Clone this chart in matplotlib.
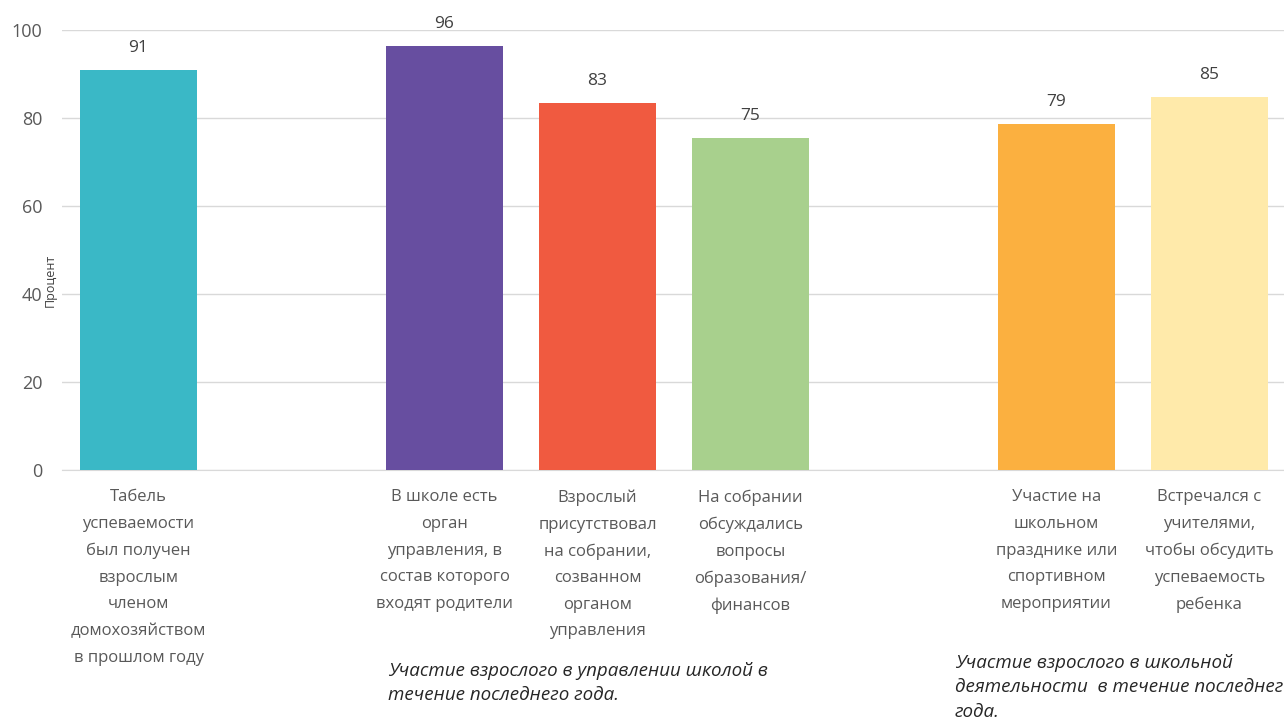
import numpy as np
import matplotlib
matplotlib.use("Agg")
import matplotlib.pyplot as plt

plt.rcParams['font.family'] = ['Open Sans', 'DejaVu Sans']

# данные
slots = [0, 2, 3, 4, 6, 7]
values = [91.0, 96.3, 83.3, 75.4, 78.6, 84.8]
colors = ['#3AB8C6', '#674EA0', '#F05A40', '#A8D08D', '#FBB040', '#FFEAAA']
labels = ['Табель\nуспеваемости\nбыл получен\nвзрослым\nчленом\nдомохозяйством\nв прошлом году',
          'В школе есть\nорган\nуправления, в\nсостав которого\nвходят родители',
          'Взрослый\nприсутствовал\nна собрании,\nсозванном\nорганом\nуправления',
          'На собрании\nобсуждались\nвопросы\nобразования/\nфинансов',
          'Участие на\nшкольном\nпразднике или\nспортивном\nмероприятии',
          'Встречался с\nучителями,\nчтобы обсудить\nуспеваемость\nребенка']
yticks = [0, 20, 40, 60, 80, 100]
note1 = 'Участие взрослого в управлении школой в\nтечение последнего года.'
note2 = 'Участие взрослого в школьной\nдеятельности  в течение последнего\nгода.'

fig = plt.figure(figsize=(12.84, 7.25), dpi=100)
ax = fig.add_axes([62/1284, 1 - 470/725, 1224/1284, 440/725])

bars = ax.bar(slots, values, width=0.765, color=colors, zorder=3)
for x, v in zip(slots, values):
    ax.text(x, v + 3.2, f'{v:.0f}', ha='center', va='bottom', fontsize=12.5, color='#404040')

ax.set_xlim(-0.5, 7.5)
ax.set_ylim(0, 100)
ax.set_yticks(yticks)
ax.yaxis.grid(True, color='#D9D9D9', linewidth=1, zorder=0)
ax.set_xticks(slots)
ax.set_xticklabels(labels, fontsize=12, color='#595959', linespacing=1.88)
ax.tick_params(axis='x', length=0, pad=14)
ax.tick_params(axis='y', length=0, pad=14, labelsize=13, labelcolor='#595959')
for s in ['top', 'right', 'left']:
    ax.spines[s].set_visible(False)
ax.spines['bottom'].set_color('#D9D9D9')

fig.text(50/1284, 1 - 280/725, 'Процент', rotation=90, ha='center', va='center',
         fontsize=9, color='#404040')
fig.text(388/1284, 1 - 662/725, note1, ha='left', va='top', fontsize=13.5,
         style='italic', color='#262626', linespacing=1.45)
fig.text(955/1284, 1 - 654/725, note2, ha='left', va='top', fontsize=13.5,
         style='italic', color='#262626', linespacing=1.45)

fig.savefig('out.png', dpi=100)
